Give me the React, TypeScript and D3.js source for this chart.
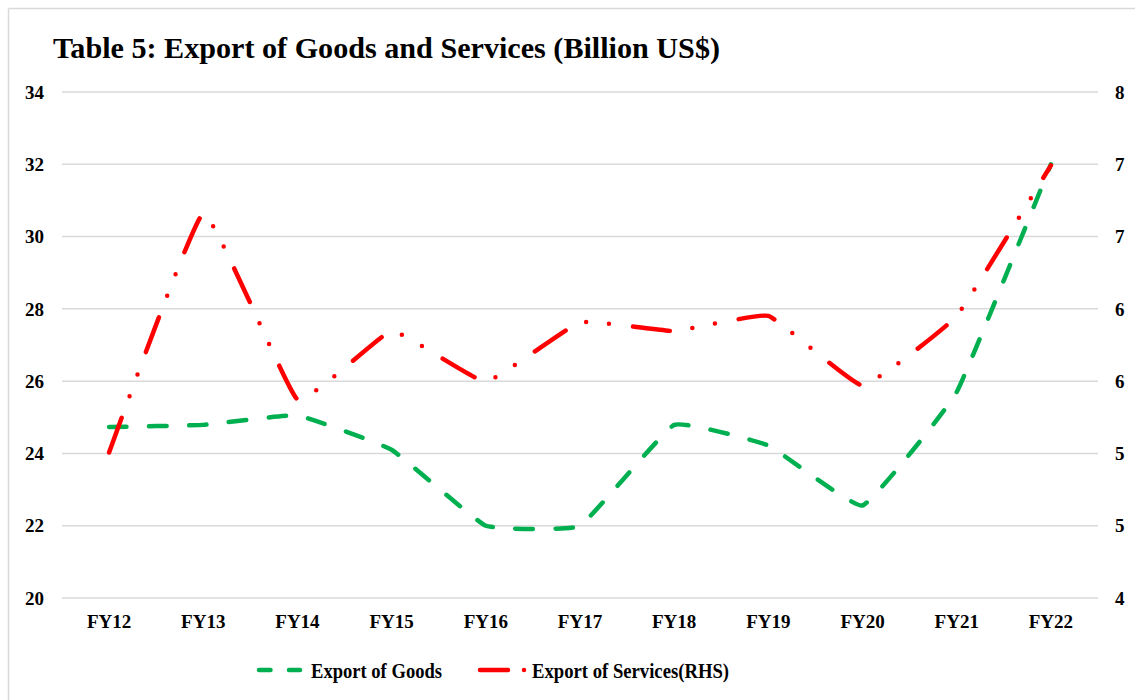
import React from "react";
import * as d3 from "d3";

const categories = ["FY12", "FY13", "FY14", "FY15", "FY16", "FY17", "FY18", "FY19", "FY20", "FY21", "FY22"];
const goods = [24.73, 24.79, 25.05, 24.1, 22.0, 22.0, 24.79, 24.22, 22.56, 25.7, 32.0];
const services = [5.15, 7.04, 5.57, 6.11, 5.71, 6.18, 6.11, 6.23, 5.68, 6.23, 7.42];
const leftTicks = [20, 22, 24, 26, 28, 30, 32, 34];
const rightTickLabels = ["4", "5", "5", "6", "6", "7", "7", "8"];
const title = "Table 5: Export of Goods and Services (Billion US$)";
const seriesNames = ["Export of Goods", "Export of Services(RHS)"];

const W = 1135;
const H = 700;
const left = 62;
const right = 1098;
const top = 92;
const bottom = 598;
const FONT = "'Liberation Serif', 'Times New Roman', serif";
const GREEN = "#00B050";
const RED = "#FF0000";
const GREEN_DASH = "17.5 22.5";
const RED_DASH = "37 23 0 23 0 24";

export default function App() {
  const x = d3.scaleBand<string>().domain(categories).range([left, right]);
  const yL = d3.scaleLinear().domain([20, 34]).range([bottom, top]);
  const yR = d3.scaleLinear().domain([4, 8]).range([bottom, top]);
  const rightTicks = rightTickLabels.map((_, i) => 4 + (i * 4) / (rightTickLabels.length - 1));
  const cx = (c: string) => (x(c) as number) + x.bandwidth() / 2;

  const curve = d3.curveCardinal.tension(0.7);
  const goodsLine = d3.line<number>().x((_, i) => cx(categories[i])).y((d) => yL(d)).curve(curve);
  const servLine = d3.line<number>().x((_, i) => cx(categories[i])).y((d) => yR(d)).curve(curve);

  return (
    <svg width={W} height={H} style={{ position: "absolute", left: 0, top: 0, background: "#fff" }} fontFamily={FONT}>
      <rect x={0} y={0} width={W} height={H} fill="#fff" />
      <line x1={8.5} y1={8.5} x2={W} y2={8.5} stroke="#d9d9d9" strokeWidth={1.5} />
      <line x1={8.5} y1={8.5} x2={8.5} y2={H} stroke="#d9d9d9" strokeWidth={1.5} />
      <text x={53} y={58} fontSize={30} fontWeight="bold" fill="#000" textLength={667} lengthAdjust="spacingAndGlyphs">{title}</text>
      {leftTicks.map((t) => (
        <line key={"g" + t} x1={left} x2={right} y1={yL(t)} y2={yL(t)} stroke="#d9d9d9" strokeWidth={1.5} />
      ))}
      {leftTicks.map((t) => (
        <text key={"l" + t} x={44} y={yL(t)} dy="0.35em" textAnchor="end" fontSize={19} fontWeight="bold">{t}</text>
      ))}
      {rightTicks.map((t, i) => (
        <text key={"r" + i} x={1115} y={yR(t)} dy="0.35em" textAnchor="start" fontSize={19} fontWeight="bold">{rightTickLabels[i]}</text>
      ))}
      {categories.map((c) => (
        <text key={c} x={cx(c)} y={628} textAnchor="middle" fontSize={19} fontWeight="bold">{c}</text>
      ))}
      <path d={goodsLine(goods) || ""} fill="none" stroke={GREEN} strokeWidth={4.5} strokeDasharray={GREEN_DASH} strokeLinecap="round" />
      <path d={servLine(services) || ""} fill="none" stroke={RED} strokeWidth={4.5} strokeDasharray={RED_DASH} strokeLinecap="round" />
      {/* legend */}
      <line x1={259} x2={300} y1={670} y2={670} stroke={GREEN} strokeWidth={4.5} strokeDasharray="11.5 18.5" strokeLinecap="round" />
      <text x={311} y={677.5} fontSize={22} fontWeight="bold" textLength={131} lengthAdjust="spacingAndGlyphs">{seriesNames[0]}</text>
      <line x1={480} x2={526} y1={670} y2={670} stroke={RED} strokeWidth={4.5} strokeDasharray="28 16 0 100" strokeLinecap="round" />
      <text x={532} y={677.5} fontSize={22} fontWeight="bold" textLength={197} lengthAdjust="spacingAndGlyphs">{seriesNames[1]}</text>
    </svg>
  );
}
